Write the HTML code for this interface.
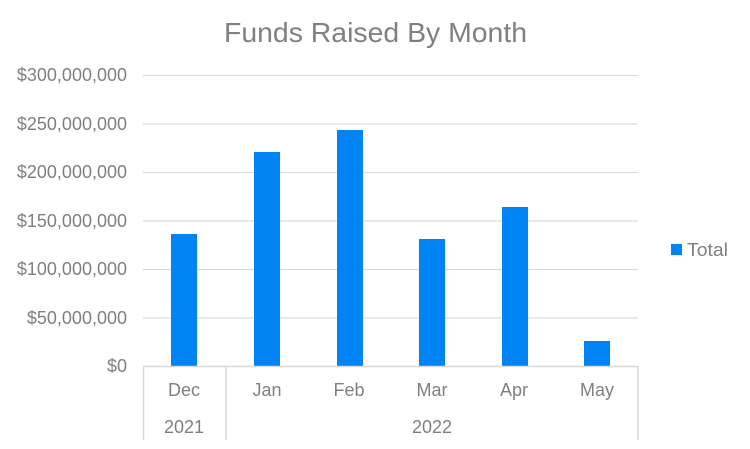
<!DOCTYPE html><html><head><style>body{margin:0;background:#fff}svg{display:block}text{font-family:"Liberation Sans",sans-serif;fill:#808080}</style></head><body>
<svg width="750" height="449" xmlns="http://www.w3.org/2000/svg">
<rect width="750" height="449" fill="#fff"/>
<text x="224" y="42" font-size="28" textLength="303" lengthAdjust="spacingAndGlyphs" fill="#7f7f7f">Funds Raised By Month</text>
<g stroke="#d9d9d9" stroke-width="1.2">
<line x1="143" x2="638" y1="75.5" y2="75.5"/><line x1="143" x2="638" y1="124" y2="124"/><line x1="143" x2="638" y1="172.5" y2="172.5"/><line x1="143" x2="638" y1="221" y2="221"/><line x1="143" x2="638" y1="269.5" y2="269.5"/><line x1="143" x2="638" y1="318" y2="318"/>
</g>
<g font-size="18" text-anchor="end">
<text x="127" y="81">$300,000,000</text><text x="127" y="130">$250,000,000</text><text x="127" y="178">$200,000,000</text><text x="127" y="227">$150,000,000</text><text x="127" y="275">$100,000,000</text><text x="127" y="324">$50,000,000</text><text x="127" y="372">$0</text>
</g>
<g fill="#0084f4">
<rect x="171" y="234" width="26" height="132.5"/>
<rect x="254" y="152" width="26" height="214.5"/>
<rect x="337" y="130" width="26" height="236.5"/>
<rect x="419" y="239" width="26" height="127.5"/>
<rect x="502" y="207" width="26" height="159.5"/>
<rect x="584" y="341" width="26" height="25.5"/>
</g>
<g stroke="#d9d9d9" stroke-width="1.5">
<line x1="143" x2="638" y1="366.5" y2="366.5"/>
<line x1="143.5" x2="143.5" y1="366" y2="440"/>
<line x1="226" x2="226" y1="366" y2="440"/>
<line x1="638" x2="638" y1="366" y2="440"/>
</g>
<g font-size="18" text-anchor="middle">
<text x="184" y="396">Dec</text><text x="267" y="396">Jan</text><text x="349" y="396">Feb</text><text x="432" y="396">Mar</text><text x="514" y="396">Apr</text><text x="597" y="396">May</text>
<text x="184" y="433">2021</text><text x="432" y="433">2022</text>
</g>
<rect x="671" y="244" width="11" height="11" fill="#0084f4"/>
<text x="687" y="256" font-size="18" textLength="41" lengthAdjust="spacingAndGlyphs">Total</text>
</svg></body></html>
